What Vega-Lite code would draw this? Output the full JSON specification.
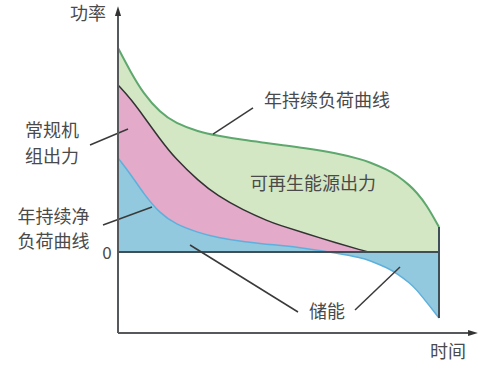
{
  "$schema": "https://vega.github.io/schema/vega-lite/v6.json",
  "width": 500,
  "height": 370,
  "autosize": {"type": "none"},
  "padding": 0,
  "background": "white",
  "config": {"view": {"stroke": null}},
  "datasets": {
    "curves": [
      {"t": 0, "green": 100, "dark": 81.86, "blue": 46.08},
      {"t": 4, "green": 88.0, "dark": 75.0, "blue": 38.0},
      {"t": 8, "green": 77.5, "dark": 66.5, "blue": 28.5},
      {"t": 13, "green": 68.5, "dark": 55.5, "blue": 19.0},
      {"t": 18, "green": 63.0, "dark": 45.5, "blue": 13.5},
      {"t": 25, "green": 59.0, "dark": 35.0, "blue": 9.5},
      {"t": 31, "green": 57.0, "dark": 27.5, "blue": 7.0},
      {"t": 39, "green": 54.9, "dark": 20.5, "blue": 5.0},
      {"t": 47, "green": 53.3, "dark": 15.0, "blue": 3.7},
      {"t": 50, "green": 52.6, "dark": 13.3, "blue": 3.3},
      {"t": 58, "green": 51.0, "dark": 9.3, "blue": 1.9},
      {"t": 68, "green": 48.5, "dark": 4.5, "blue": -0.5},
      {"t": 76, "green": 45.3, "dark": 0.8, "blue": -2.9},
      {"t": 78, "green": 44.2, "dark": 0, "blue": -3.9},
      {"t": 84, "green": 40.3, "dark": 0, "blue": -7.8},
      {"t": 87, "green": 37.5, "dark": 0, "blue": -10.6},
      {"t": 91, "green": 32.5, "dark": 0, "blue": -15.3},
      {"t": 93, "green": 29.2, "dark": 0, "blue": -18.5},
      {"t": 96, "green": 23.5, "dark": 0, "blue": -24.3},
      {"t": 100, "green": 12.25, "dark": 0, "blue": -32.35}
    ],
    "rules": [
      {"kind": "zero", "t": 0, "t2": 100, "p": 0, "p2": 0},
      {"kind": "edge", "t": 100, "t2": 100, "p": 12.25, "p2": -32.35}
    ],
    "axes": [
      {"t": 0, "t2": 0, "p": -39.7, "p2": 117},
      {"t": 0, "t2": 110, "p": -39.7, "p2": -39.7}
    ],
    "leaders": [
      {"t": 29.6, "t2": 42.06, "p": 57.8, "p2": 70.6},
      {"t": -8.72, "t2": 3.12, "p": 52.45, "p2": 60.3},
      {"t": -4.67, "t2": 10.59, "p": 13.24, "p2": 22.06},
      {"t": 22.43, "t2": 56.07, "p": 3.43, "p2": -29.41},
      {"t": 73.83, "t2": 87.85, "p": -28.43, "p2": -7.35}
    ],
    "labels": [
      {"t": 65.1, "p": 73.5, "label": "年持续负荷曲线", "size": 18},
      {"t": 60.75, "p": 32.8, "label": "可再生能源出力", "size": 18},
      {"t": -20.56, "p": 58.8, "label": "常规机", "size": 18},
      {"t": -20.56, "p": 46.1, "label": "组出力", "size": 18},
      {"t": -20.1, "p": 16.7, "label": "年持续净", "size": 18},
      {"t": -20.1, "p": 4.4, "label": "负荷曲线", "size": 18},
      {"t": 65.1, "p": -29.9, "label": "储能", "size": 18},
      {"t": -3.4, "p": -1.0, "label": "0", "size": 17},
      {"t": -9.35, "p": 116.2, "label": "功率", "size": 18},
      {"t": 102.8, "p": -49.5, "label": "时间", "size": 18}
    ]
  },
  "encoding": {
    "x": {"field": "t", "type": "quantitative", "scale": {"domain": [-36.76, 119.0], "nice": false, "zero": false}, "axis": null}
  },
  "layer": [
    {
      "data": {"name": "curves"},
      "mark": {"type": "area", "color": "#d4e7c4", "opacity": 1, "interpolate": "basis"},
      "encoding": {
        "y": {"field": "green", "type": "quantitative", "scale": {"domain": [-57.84, 123.53], "nice": false, "zero": false}, "axis": null},
        "y2": {"datum": 0}
      }
    },
    {
      "data": {"name": "curves"},
      "mark": {"type": "area", "color": "#e3aac9", "opacity": 1, "interpolate": "basis"},
      "encoding": {
        "y": {"field": "dark", "type": "quantitative", "scale": {"domain": [-57.84, 123.53], "nice": false, "zero": false}, "axis": null},
        "y2": {"datum": 0}
      }
    },
    {
      "data": {"name": "curves"},
      "mark": {"type": "area", "color": "#92c9de", "opacity": 1, "interpolate": "basis"},
      "encoding": {
        "y": {"field": "blue", "type": "quantitative", "scale": {"domain": [-57.84, 123.53], "nice": false, "zero": false}, "axis": null},
        "y2": {"datum": 0}
      }
    },
    {
      "data": {"name": "curves"},
      "mark": {"type": "line", "color": "#5ea86e", "strokeWidth": 2, "interpolate": "basis"},
      "encoding": {
        "y": {"field": "green", "type": "quantitative", "scale": {"domain": [-57.84, 123.53], "nice": false, "zero": false}, "axis": null}
      }
    },
    {
      "data": {"name": "curves"},
      "transform": [{"filter": "datum.t <= 78"}],
      "mark": {"type": "line", "color": "#333333", "strokeWidth": 1.5, "interpolate": "basis"},
      "encoding": {
        "y": {"field": "dark", "type": "quantitative", "scale": {"domain": [-57.84, 123.53], "nice": false, "zero": false}, "axis": null}
      }
    },
    {
      "data": {"name": "curves"},
      "mark": {"type": "line", "color": "#5eb0dc", "strokeWidth": 1.5, "interpolate": "basis"},
      "encoding": {
        "y": {"field": "blue", "type": "quantitative", "scale": {"domain": [-57.84, 123.53], "nice": false, "zero": false}, "axis": null}
      }
    },
    {
      "data": {"name": "rules"},
      "mark": {"type": "rule", "color": "#3f4f58", "strokeWidth": 2},
      "encoding": {
        "y": {"field": "p", "type": "quantitative", "scale": {"domain": [-57.84, 123.53], "nice": false, "zero": false}, "axis": null},
        "x2": {"field": "t2"},
        "y2": {"field": "p2"}
      }
    },
    {
      "data": {"name": "leaders"},
      "mark": {"type": "rule", "color": "#3a3a3a", "strokeWidth": 1.5},
      "encoding": {
        "y": {"field": "p", "type": "quantitative", "scale": {"domain": [-57.84, 123.53], "nice": false, "zero": false}, "axis": null},
        "x2": {"field": "t2"},
        "y2": {"field": "p2"}
      }
    },
    {
      "data": {"name": "axes"},
      "mark": {"type": "rule", "color": "#55595c", "strokeWidth": 2},
      "encoding": {
        "y": {"field": "p", "type": "quantitative", "scale": {"domain": [-57.84, 123.53], "nice": false, "zero": false}, "axis": null},
        "x2": {"field": "t2"},
        "y2": {"field": "p2"}
      }
    },
    {
      "data": {"values": [{"t": 0, "p": 117.5}]},
      "mark": {"type": "point", "shape": "M-0.5,0.6L0,-1L0.5,0.6Z", "size": 150, "filled": true, "color": "#333333", "opacity": 1},
      "encoding": {
        "y": {"field": "p", "type": "quantitative", "scale": {"domain": [-57.84, 123.53], "nice": false, "zero": false}, "axis": null}
      }
    },
    {
      "data": {"values": [{"t": 110.2, "p": -39.7}]},
      "mark": {"type": "point", "shape": "M-0.6,-0.5L1,0L-0.6,0.5Z", "size": 150, "filled": true, "color": "#333333", "opacity": 1},
      "encoding": {
        "y": {"field": "p", "type": "quantitative", "scale": {"domain": [-57.84, 123.53], "nice": false, "zero": false}, "axis": null}
      }
    },
    {
      "data": {"name": "labels"},
      "mark": {"type": "text", "font": "Noto Sans CJK SC", "color": "#4a4a4a", "align": "center", "baseline": "middle"},
      "encoding": {
        "y": {"field": "p", "type": "quantitative", "scale": {"domain": [-57.84, 123.53], "nice": false, "zero": false}, "axis": null},
        "text": {"field": "label"},
        "size": {"field": "size", "type": "quantitative", "scale": null}
      }
    }
  ]
}
